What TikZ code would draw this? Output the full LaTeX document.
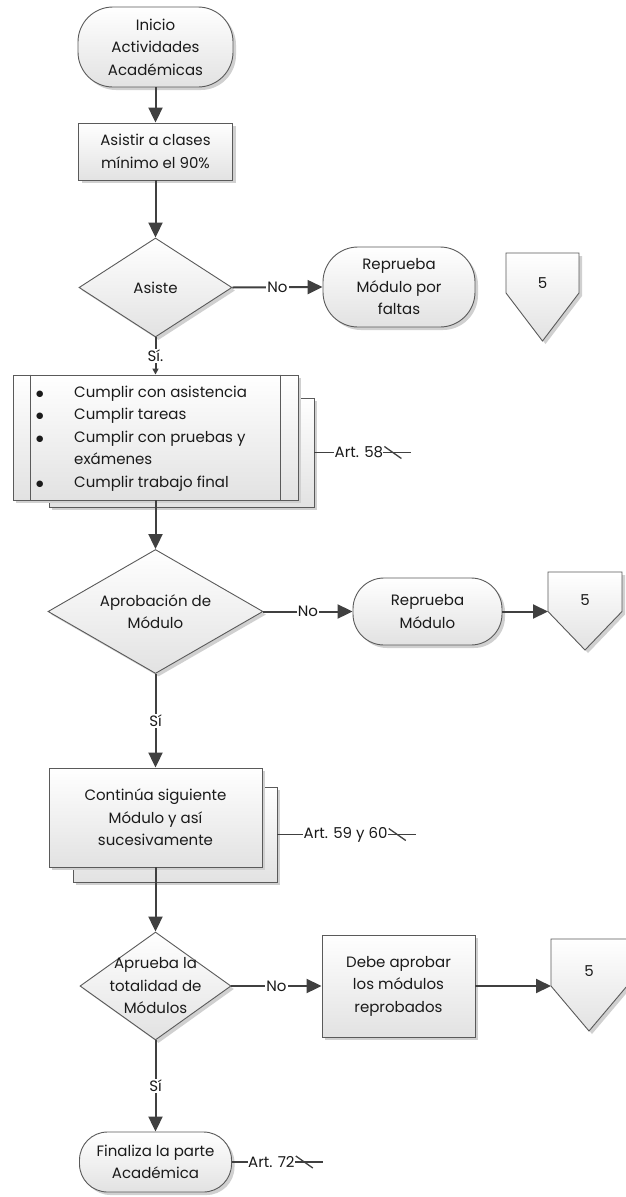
\documentclass[tikz,border=0pt]{standalone}
\usepackage{fontspec}
\setmainfont{Poppins}
\newfontfamily\dotfont{DejaVu Sans}
\usetikzlibrary{shapes.geometric,shadows,arrows.meta}

\definecolor{edgegray}{HTML}{5A5A5A}
\definecolor{flowgray}{HTML}{404040}
\definecolor{fillgray}{HTML}{E2E2E2}
\definecolor{shadowgray}{HTML}{D0D0D0}
\definecolor{textgray}{HTML}{1A1A1A}

\tikzset{
  shapebase/.style={draw=edgegray, line width=0.9pt, top color=white, bottom color=fillgray,
    drop shadow={shadow xshift=3pt, shadow yshift=-3pt, fill=shadowgray, opacity=1}},
  term/.style={shapebase, rectangle, rounded corners=35pt, align=center, inner sep=0pt},
  procbox/.style={shapebase, rectangle, align=center, inner sep=0pt},
  decision/.style={shapebase, diamond, inner sep=0pt},
  txt/.style={text=textgray, align=center, inner sep=0pt},
  flow/.style={draw=flowgray, line width=2pt, -{Triangle[length=15pt,width=14pt]}},
  flowsmall/.style={draw=flowgray, line width=2pt, -{Triangle[length=6pt,width=6pt]}},
  lbl/.style={fill=white, text=textgray, inner sep=1pt},
  note/.style={draw=flowgray, line width=1.3pt},
}

% off-page reference: name, left x, top y, width, side height, total height
\newcommand\offpagesym[6]{%
  \path[shapebase] (#2,#3) -- ++(#4,0) -- ++(0,#5) -- ++({-#4/2},{#6-#5})
     -- ++({-#4/2},{#5-#6}) -- cycle;
  \coordinate (#1-w) at (#2,{#3+#5});
}

% callout ending with a struck tail
\newcommand\calloutmark[1]{%
  \draw[note] (#1.east) -- ++(28,0);
  \draw[note] ([xshift=1pt,yshift=6pt]#1.east) -- ++(17,12);
}

\newcommand\itemdot{\raisebox{1pt}{\dotfont\fontsize{8.5}{8.5}\selectfont ●}}

\begin{document}
\begin{tikzpicture}[x=1pt,y=-1pt,font=\fontsize{15}{22.5}\selectfont]
\useasboundingbox[fill=white] (0,0) rectangle (625,1197);

% ---- start and attendance ----
\node[term, minimum width=155pt, minimum height=80pt] (start) at (155.5,47) {};
\node[txt] at (start) {Inicio\\Actividades\\Académicas};

\node[procbox, minimum width=154pt, minimum height=57pt] (attend) at (155.5,151.5) {};
\node[txt] at (attend) {Asistir a clases\\mínimo el 90\%};

\node[decision, minimum width=153pt, minimum height=99pt] (asiste) at (155.5,287.5) {};
\node[txt] at (asiste) {Asiste};

\node[term, minimum width=152pt, minimum height=80pt] (faltas) at (399,287) {};
\node[txt] at (faltas) {Reprueba\\Módulo por\\faltas};

\offpagesym{offA}{506}{253}{73}{40}{88}
\node[txt] (offAlbl) at (542.5,283) {5};

% ---- course requirements ----
\node[procbox, minimum width=265pt, minimum height=109pt] (reqback) at (181.5,452.5) {};
\node[procbox, minimum width=285pt, minimum height=125pt] (req) at (155.5,437.5) {};
\draw[edgegray, line width=0.9pt] ([xshift=18pt]req.north west) -- ([xshift=18pt]req.south west);
\draw[edgegray, line width=0.9pt] ([xshift=-18pt]req.north east) -- ([xshift=-18pt]req.south east);
\node[txt, anchor=west, align=left] (reqtext) at (36,437.5) {%
  \begin{tabular}{@{}p{38pt}@{}l@{}}
  \itemdot & Cumplir con asistencia\\
  \itemdot & Cumplir tareas\\
  \itemdot & Cumplir con pruebas y\\
           & exámenes\\
  \itemdot & Cumplir trabajo final
  \end{tabular}};

\node[txt, anchor=west] (art58) at ([xshift=20pt]reqback.east) {Art. 58};
\draw[note] (reqback.east) -- (art58.west);
\calloutmark{art58}

% ---- module approval ----
\node[decision, minimum width=215pt, minimum height=124pt] (aprob) at (155.5,611.5) {};
\node[txt] at (aprob) {Aprobación de\\Módulo};

\node[term, rounded corners=31pt, minimum width=149pt, minimum height=67pt] (repmod) at (427.5,611.5) {};
\node[txt] at (repmod) {Reprueba\\Módulo};

\offpagesym{offB}{548}{572}{74}{39.5}{78}
\node[txt] (offBlbl) at (585,600) {5};

% ---- next module ----
\node[procbox, minimum width=204pt, minimum height=95pt] (contback) at (175,834.5) {};
\node[procbox, minimum width=213pt, minimum height=99pt] (cont) at (155.5,817.5) {};
\node[txt] at (cont) {Continúa siguiente\\Módulo y así\\sucesivamente};

\node[txt, anchor=west] (art59) at ([xshift=26pt]contback.east) {Art. 59 y 60};
\draw[note] (contback.east) -- (art59.west);
\calloutmark{art59}

% ---- all modules ----
\node[decision, minimum width=151pt, minimum height=108pt] (total) at (155.5,986) {};
\node[txt] at (total) {Aprueba la\\totalidad de\\Módulos};

\node[procbox, minimum width=153pt, minimum height=102pt] (debe) at (398.5,986) {};
\node[txt] at (debe) {Debe aprobar\\los módulos\\reprobados};

\offpagesym{offC}{551}{939}{76}{47}{92}
\node[txt] (offClbl) at (589,971) {5};

% ---- end ----
\node[term, rounded corners=28pt, minimum width=152pt, minimum height=60pt] (fin) at (155.5,1162) {};
\node[txt] at (fin) {Finaliza la parte\\Académica};

\node[txt, anchor=west] (art72) at ([xshift=16pt]fin.east) {Art. 72};
\draw[note] (fin.east) -- (art72.west);
\calloutmark{art72}

% ---- connectors ----
\draw[flow] (start) -- (attend);
\draw[flow] (attend) -- (asiste);
\draw[flow] (asiste.east) -- node[lbl]{No} (faltas.west);
\draw[flowsmall] (asiste.south) -- node[lbl]{Sí.} (req.north);
\draw[flow] (req.south) -- (aprob.north);
\draw[flow] (aprob.east) -- node[lbl]{No} (repmod.west);
\draw[flow] (repmod.east) -- (offB-w);
\draw[flow] (aprob.south) -- node[lbl]{Sí} (cont.north);
\draw[flow] (cont.south) -- (total.north);
\draw[flow] (total.east) -- node[lbl]{No} (debe.west);
\draw[flow] (debe.east) -- (offC-w);
\draw[flow] (total.south) -- node[lbl]{Sí} (fin.north);
\end{tikzpicture}
\end{document}
